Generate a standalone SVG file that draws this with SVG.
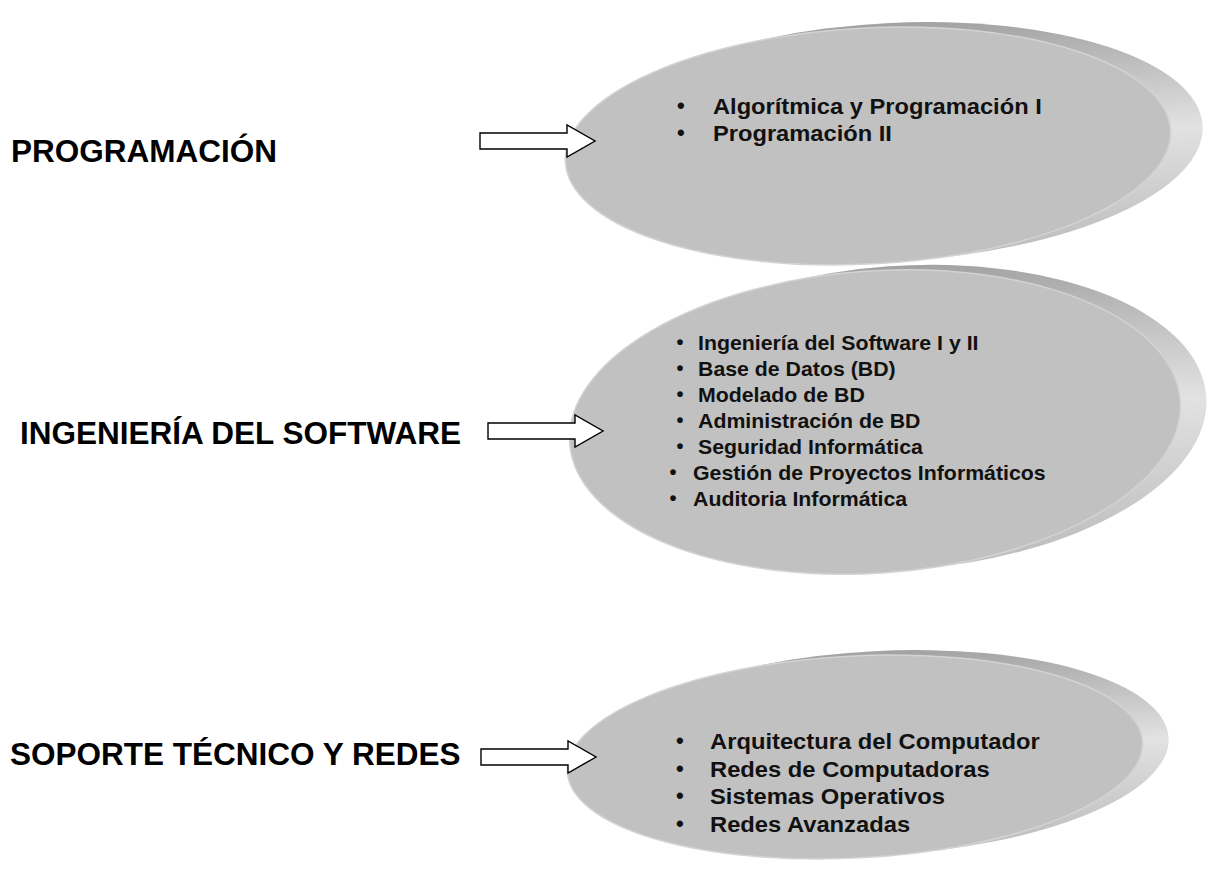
<svg xmlns="http://www.w3.org/2000/svg" width="1208" height="886" viewBox="0 0 1208 886">
  <style>
    .lbl { font-family: "Liberation Sans", Arial, sans-serif; font-weight: bold; font-size: 31.5px; fill: #000; }
    .it1 { font-family: "Liberation Sans", Arial, sans-serif; font-weight: bold; font-size: 22px; fill: #111; }
    .it2 { font-family: "Liberation Sans", Arial, sans-serif; font-weight: bold; font-size: 20px; fill: #111; }
    .front { fill: #c1c1c1; stroke: #d3d3d3; stroke-width: 1.5; }
    .back { fill: url(#backGrad); }
    .arrow { fill: #fff; stroke: #000; stroke-width: 1.4; stroke-linejoin: miter; }
  </style>
  <defs>
    <linearGradient id="backGrad" x1="0" y1="0" x2="0" y2="1">
      <stop offset="0" stop-color="#a2a2a2"/>
      <stop offset="0.5" stop-color="#e2e2e2"/>
      <stop offset="1" stop-color="#bcbcbc"/>
    </linearGradient>
    <path id="arr" d="M0,8 H87 V0 L115,16 L87,32 V24 H0 Z"/>
  </defs>
  <rect width="1208" height="886" fill="#fff"/>

  <!-- Node 1 -->
  <g id="node-programacion">
    <ellipse class="back" cx="892" cy="142" rx="311" ry="119" transform="rotate(-3 892 142)"/>
    <ellipse class="front" cx="868" cy="146" rx="303" ry="118" transform="rotate(-3 868 146)"/>
    <text class="it1" x="677" y="113">•</text>
    <text class="it1" x="677" y="140">•</text>
    <text class="it1" transform="translate(713 114) scale(1.076 1)">Algorítmica y Programación I</text>
    <text class="it1" transform="translate(713 141) scale(1.076 1)">Programación II</text>
  </g>
  <g id="label-programacion">
    <text class="lbl" x="11" y="162">PROGRAMACIÓN</text>
  </g>

  <!-- Node 2 -->
  <g id="node-ingenieria">
    <ellipse class="back" cx="899" cy="418" rx="308" ry="152" transform="rotate(-4 899 418)"/>
    <ellipse class="front" cx="875" cy="422" rx="306" ry="151" transform="rotate(-4 875 422)"/>
    <text class="it2" x="676.5" y="349">•</text>
    <text class="it2" x="676.5" y="375">•</text>
    <text class="it2" x="676.5" y="401">•</text>
    <text class="it2" x="676.5" y="427">•</text>
    <text class="it2" x="676.5" y="453">•</text>
    <text class="it2" x="669.5" y="479">•</text>
    <text class="it2" x="669.5" y="505">•</text>
    <text class="it2" transform="translate(698 350) scale(1.065 1)">Ingeniería del Software I y II</text>
    <text class="it2" transform="translate(698 376) scale(1.065 1)">Base de Datos (BD)</text>
    <text class="it2" transform="translate(698 402) scale(1.065 1)">Modelado de BD</text>
    <text class="it2" transform="translate(698 428) scale(1.065 1)">Administración de BD</text>
    <text class="it2" transform="translate(698 454) scale(1.065 1)">Seguridad Informática</text>
    <text class="it2" transform="translate(693 480) scale(1.065 1)">Gestión de Proyectos Informáticos</text>
    <text class="it2" transform="translate(693 506) scale(1.065 1)">Auditoria Informática</text>
  </g>
  <g id="label-ingenieria">
    <text class="lbl" x="20" y="444">INGENIERÍA DEL SOFTWARE</text>
  </g>

  <!-- Node 3 -->
  <g id="node-soporte">
    <ellipse class="back" cx="879" cy="753" rx="290" ry="102" transform="rotate(-3 879 753)"/>
    <ellipse class="front" cx="855" cy="757" rx="288" ry="101" transform="rotate(-3 855 757)"/>
    <text class="it1" x="676" y="748">•</text>
    <text class="it1" x="676" y="775.5">•</text>
    <text class="it1" x="676" y="803">•</text>
    <text class="it1" x="676" y="830.5">•</text>
    <text class="it1" transform="translate(710 749) scale(1.08 1)">Arquitectura del Computador</text>
    <text class="it1" transform="translate(710 776.5) scale(1.08 1)">Redes de Computadoras</text>
    <text class="it1" transform="translate(710 804) scale(1.08 1)">Sistemas Operativos</text>
    <text class="it1" transform="translate(710 831.5) scale(1.08 1)">Redes Avanzadas</text>
  </g>
  <g id="label-soporte">
    <text class="lbl" x="10" y="765">SOPORTE TÉCNICO Y REDES</text>
  </g>

  <!-- Connectors -->
  <g id="connectors">
    <use href="#arr" class="arrow" transform="translate(480 125)"/>
    <use href="#arr" class="arrow" transform="translate(488 415)"/>
    <use href="#arr" class="arrow" transform="translate(481 741)"/>
  </g>
</svg>
